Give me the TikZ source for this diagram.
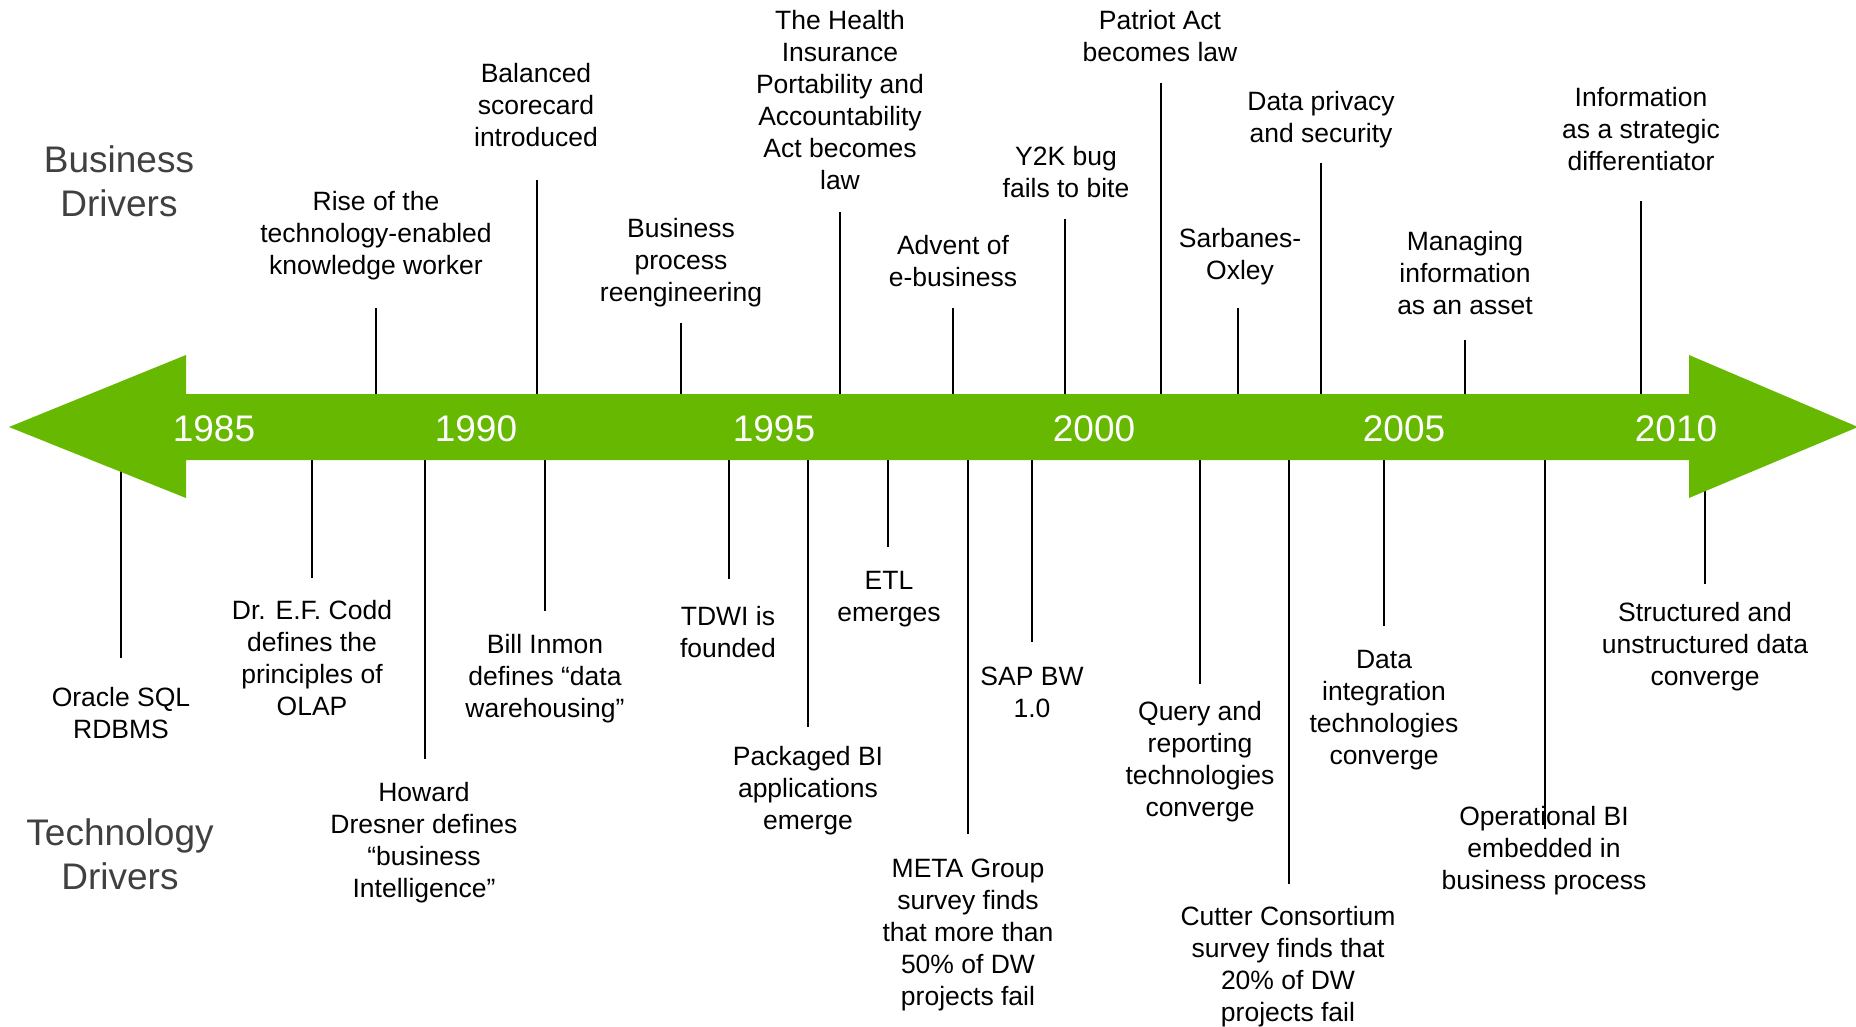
\documentclass[tikz,border=0pt]{standalone}
\usepackage{fontspec}
\setmainfont{Liberation Sans}
\definecolor{tlgreen}{RGB}{102,184,0}
\definecolor{drvgray}{RGB}{64,64,64}
\begin{document}
\begin{tikzpicture}[x=1pt,y=-1pt,
  lbl/.style={font=\fontsize{26.5}{32}\selectfont, align=center, inner sep=0pt, yshift=-1.5pt},
  yr/.style={font=\fontsize{37}{44}\selectfont, text=white, inner sep=0pt},
  drv/.style={font=\fontsize{37}{44}\selectfont, text=drvgray, align=center, inner sep=0pt},
  tick/.style={line width=2.2pt, black}]
\useasboundingbox (0,0) rectangle (1856,1026);

% side titles
\node[drv] (bd) at (119,185.5) {\strut Business\\Drivers\strut};
\node[drv] (td) at (120,858.5) {\strut Technology\\Drivers\strut};

% business drivers (upper)
\node[lbl] (u1) at (376,235) {\strut Rise of the\\technology-enabled\\knowledge worker\strut};
\node[lbl] (u2) at (536,107) {\strut Balanced\\scorecard\\introduced\strut};
\node[lbl] (u3) at (681,262) {\strut Business\\process\\reengineering\strut};
\node[lbl] (u4) at (840,102) {\strut The Health\\Insurance\\Portability and\\Accountability\\Act becomes\\law\strut};
\node[lbl] (u5) at (953,263) {\strut Advent of\\e-business\strut};
\node[lbl] (u6) at (1066,174) {\strut Y2K bug\\fails to bite\strut};
\node[lbl] (u7) at (1160,38) {\strut Patriot Act\\becomes law\strut};
\node[lbl] (u8) at (1240,256) {\strut Sarbanes-\\Oxley\strut};
\node[lbl] (u9) at (1321,119) {\strut Data privacy\\and security\strut};
\node[lbl] (u10) at (1465,275) {\strut Managing\\information\\as an asset\strut};
\node[lbl] (u11) at (1641,131) {\strut Information\\as a strategic\\differentiator\strut};

% technology drivers (lower)
\node[lbl] (l1) at (121,715) {\strut Oracle SQL\\RDBMS\strut};
\node[lbl] (l2) at (312,660) {\strut Dr. E.F. Codd\\defines the\\principles of\\OLAP\strut};
\node[lbl] (l3) at (424,842) {\strut Howard\\Dresner defines\\“business\\Intelligence”\strut};
\node[lbl] (l4) at (545,678) {\strut Bill Inmon\\defines “data\\warehousing”\strut};
\node[lbl] (l5) at (728,633.5) {\strut TDWI is\\founded\strut};
\node[lbl] (l6) at (808,790) {\strut Packaged BI\\applications\\emerge\strut};
\node[lbl] (l7) at (889,598) {\strut ETL\\emerges\strut};
\node[lbl] (l8) at (968,934) {\strut META Group\\survey finds\\that more than\\50\% of DW\\projects fail\strut};
\node[lbl] (l9) at (1032,694) {\strut SAP BW\\1.0\strut};
\node[lbl] (l10) at (1200,761) {\strut Query and\\reporting\\technologies\\converge\strut};
\node[lbl] (l11) at (1288,966) {\strut Cutter Consortium\\survey finds that\\20\% of DW\\projects fail\strut};
\node[lbl] (l12) at (1384,709) {\strut Data\\integration\\technologies\\converge\strut};
\node[lbl] (l13) at (1544,850) {\strut Operational BI\\embedded in\\business process\strut};
\node[lbl] (l14) at (1705,646) {\strut Structured and\\unstructured data\\converge\strut};

% ticks (upper)
\foreach \n/\x/\t in {1/376/308, 2/537/180, 3/681/323, 4/840/212, 5/953/308, 6/1065/219,
                      7/1161/83, 8/1238/308, 9/1321/163, 10/1465/340, 11/1641/201} {
  \coordinate (ut\n) at (\x,\t);
  \coordinate (ub\n) at (\x,400);
  \draw[tick] (ut\n) -- (ub\n);
}
% ticks (lower)
\foreach \n/\x/\b in {1/121/658, 2/312/578, 3/425/759, 4/545/611, 5/729/579, 6/808/727,
                      7/888/547, 8/968/834, 9/1032/642, 10/1200/684, 11/1289/884,
                      12/1384/626, 13/1545/829, 14/1705/584} {
  \coordinate (lt\n) at (\x,455);
  \coordinate (lb\n) at (\x,\b);
  \draw[tick] (lt\n) -- (lb\n);
}

% timeline arrow
\coordinate (tipL) at (9,427);
\coordinate (tipR) at (1858,427);
\fill[tlgreen] (tipL) -- (186,355) -- (186,394) -- (1689,394) -- (1689,355) -- (tipR)
  -- (1689,498) -- (1689,460) -- (186,460) -- (186,498) -- cycle;

% years
\node[yr] (y85) at (214,429) {1985};
\node[yr] (y90) at (476,429) {1990};
\node[yr] (y95) at (774,429) {1995};
\node[yr] (y00) at (1094,429) {2000};
\node[yr] (y05) at (1404,429) {2005};
\node[yr] (y10) at (1676,429) {2010};
\end{tikzpicture}
\end{document}
